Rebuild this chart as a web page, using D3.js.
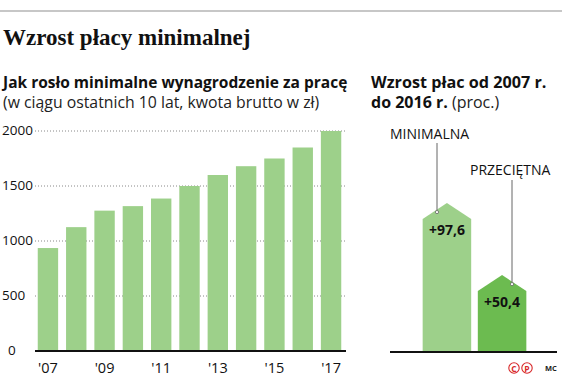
<!DOCTYPE html>
<html><head><meta charset="utf-8">
<script src="https://cdn.jsdelivr.net/npm/d3@7"></script>
<style>body{margin:0;background:#fff}svg{display:block}</style>
</head><body>
<script>
const years = ["'07","'08","'09","'10","'11","'12","'13","'14","'15","'16","'17"];
const wages = [936,1126,1276,1317,1386,1500,1600,1680,1750,1850,2000];
const yTicks = [0,500,1000,1500,2000];
const xTickLabels = ["'07","'09","'11","'13","'15","'17"];
const growthCats = ["MINIMALNA","PRZECIĘTNA"];
const growthVals = [97.6,50.4];
const growthLabels = ["+97,6","+50,4"];

const W=562,H=380;
const svg=d3.select("body").append("svg").attr("width",W).attr("height",H);
const sans="'Open Sans', sans-serif";
const lightG="#9dd08a", darkG="#6cbb50";

svg.append("line").attr("x1",0).attr("x2",W).attr("y1",11).attr("y2",11).attr("stroke","#b5b5b5").attr("stroke-width",1.5);
svg.append("text").attr("x",3).attr("y",45).attr("font-family","'Liberation Serif', serif").attr("font-weight","bold").attr("font-size",23).attr("fill","#111").text("Wzrost płacy minimalnej");

svg.append("text").attr("x",3).attr("y",88).attr("font-family",sans).attr("font-weight","bold").attr("font-size",15.5).attr("fill","#111").text("Jak rosło minimalne wynagrodzenie za pracę");
svg.append("text").attr("x",3).attr("y",108).attr("font-family",sans).attr("font-size",15.8).attr("fill","#222").text("(w ciągu ostatnich 10 lat, kwota brutto w zł)");
svg.append("text").attr("x",371).attr("y",88).attr("font-family",sans).attr("font-weight","bold").attr("font-size",16.2).attr("fill","#111").text("Wzrost płac od 2007 r.");
const t2=svg.append("text").attr("x",371).attr("y",108).attr("font-family",sans).attr("font-size",16).attr("fill","#222");
t2.append("tspan").attr("font-weight","bold").attr("fill","#111").text("do 2016 r. ");
t2.append("tspan").text("(proc.)");

// left bar chart
const x=d3.scaleBand().domain(years).range([33.5,345.5]).paddingInner(0.28).paddingOuter(0.15);
const y=d3.scaleLinear().domain([0,2000]).range([351,131]);
const g=svg.append("g");
g.selectAll(".grid").data(yTicks.filter(d=>d>0)).join("line")
 .attr("x1",35).attr("x2",346).attr("y1",d=>y(d)).attr("y2",d=>y(d))
 .attr("stroke","#888").attr("stroke-width",1).attr("stroke-dasharray","1,2");
g.selectAll(".ytl").data(yTicks).join("text")
 .attr("x",d=>d===0?8:2).attr("y",d=>y(d)+4).attr("font-family",sans).attr("font-size",13.5).attr("fill","#111").text(d=>d);
g.selectAll(".bar").data(wages).join("rect")
 .attr("x",(d,i)=>x(years[i])).attr("width",x.bandwidth())
 .attr("y",d=>y(d)).attr("height",d=>y(0)-y(d)).attr("fill",lightG);
g.append("line").attr("x1",35).attr("x2",346).attr("y1",y(0)).attr("y2",y(0)).attr("stroke","#111").attr("stroke-width",2);
g.selectAll(".xtl").data(xTickLabels).join("text")
 .attr("x",d=>x(d)+x.bandwidth()/2).attr("y",373).attr("text-anchor","middle")
 .attr("font-family",sans).attr("font-size",14.5).attr("fill","#111").text(d=>d);

// right chart
const gx=d3.scaleBand().domain(growthCats).range([421,528]).paddingInner(0.12).paddingOuter(0.03);
const gy=d3.scaleLinear().domain([0,100]).range([352,199.4]);
const arrowH=16;
const gr=svg.append("g");
gr.selectAll(".arr").data(growthVals).join("path")
 .attr("d",(d,i)=>{const x0=gx(growthCats[i]),w=gx.bandwidth(),top=gy(d);
   return `M${x0},${gy(0)}V${top+arrowH}L${x0+w/2},${top}L${x0+w},${top+arrowH}V${gy(0)}Z`;})
 .attr("fill",(d,i)=>i===0?lightG:darkG);
gr.append("line").attr("x1",390).attr("x2",557).attr("y1",352).attr("y2",352).attr("stroke","#111").attr("stroke-width",2);
gr.selectAll(".vl").data(growthVals).join("text")
 .attr("x",(d,i)=>gx(growthCats[i])+gx.bandwidth()/2).attr("y",d=>gy(d)+arrowH+16)
 .attr("text-anchor","middle").attr("font-family",sans).attr("font-weight","bold").attr("font-size",14).attr("fill","#111")
 .text((d,i)=>growthLabels[i]);
const labelPos=[{x:390,y:139,lx:437,ly1:143},{x:470,y:175,lx:512,ly1:180}];
growthCats.forEach((c,i)=>{
  const p=labelPos[i];
  gr.append("text").attr("x",p.x).attr("y",p.y).attr("font-family",sans).attr("font-size",14).attr("fill","#111").text(c);
  const yEnd=gy(growthVals[i])+arrowH/2+1;
  gr.append("line").attr("x1",p.lx).attr("x2",p.lx).attr("y1",p.ly1).attr("y2",yEnd-2).attr("stroke","#666").attr("stroke-width",1);
  gr.append("circle").attr("cx",p.lx).attr("cy",yEnd).attr("r",1.6).attr("fill","#fff").attr("stroke","#666").attr("stroke-width",0.8);
});

// credits
[["C",514],["P",527]].forEach(([s,cx])=>{
  svg.append("circle").attr("cx",cx).attr("cy",368).attr("r",5.2).attr("fill","none").attr("stroke","#d8282a").attr("stroke-width",1.1);
  svg.append("text").attr("x",cx).attr("y",371.5).attr("text-anchor","middle").attr("font-family",sans).attr("font-size",8.5).attr("font-weight","bold").attr("fill","#d8282a").text(s);
});
svg.append("text").attr("x",545).attr("y",371).attr("font-family",sans).attr("font-size",7.5).attr("font-weight","bold").attr("fill","#222").text("MC");
</script>
</body></html>
